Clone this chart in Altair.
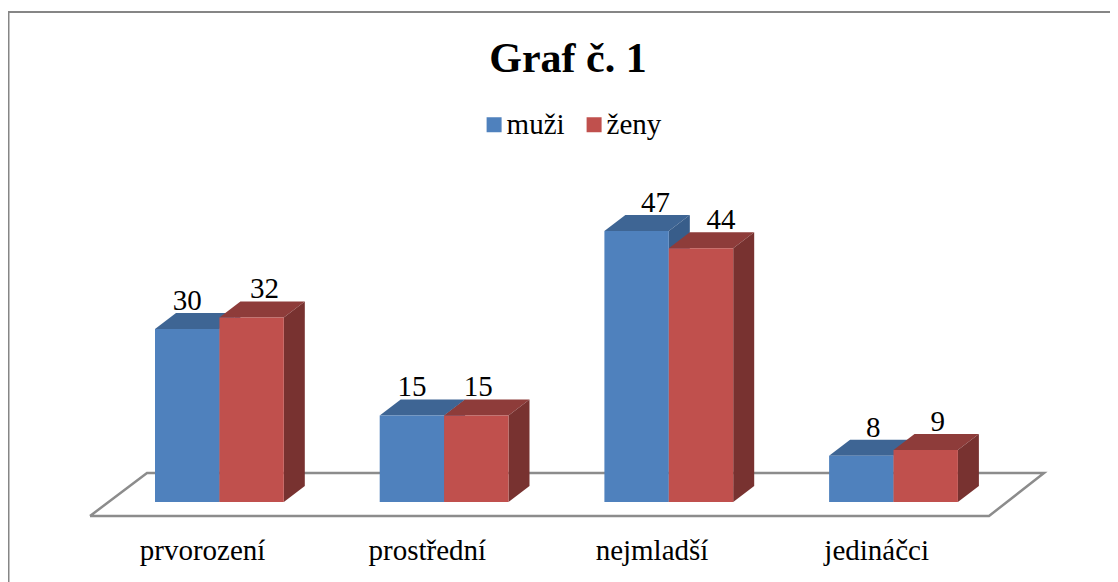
import altair as alt
import pandas as pd

categories = ["prvorození", "prostřední", "nejmladší", "jedináčci"]
muzi = [30, 15, 47, 8]
zeny = [32, 15, 44, 9]
series = ["muži", "ženy"]
front = ["#4F81BD", "#C0504D"]
top = ["#3E6594", "#8E3C3A"]
side = ["#385D8A", "#783230"]
label_nudge_x = [[0, 13], [0, 2], [19, 20], [12, 12]]

W, H = 1102, 574
PX = 5.766            # pixels per unit of value
BASE = 494            # pixel row of value 0 inside the svg
DX, DY = 21, 16 / PX  # depth of the bars
BAR = 64.4
STEP = 224.7
X0 = 147
FONT = "Liberation Serif"

xs = alt.Scale(domain=[0, W], range=[0, W])
ys = alt.Scale(domain=[(BASE - H) / PX, BASE / PX], range=[H, 0], zero=False)
X = lambda f: alt.X(f, type="quantitative", scale=xs, axis=None)
Y = lambda f: alt.Y(f, type="quantitative", scale=ys, axis=None)

def v_from_row(row):
    return (BASE - row) / PX

rows_front, rows_top, rows_side, rows_text = [], [], [], []
for s, vals in enumerate([muzi, zeny]):
    for c, v in enumerate(vals):
        x0 = X0 + c * STEP + s * BAR
        x1 = x0 + BAR
        key = f"{s}-{c}"
        rows_front.append(dict(s=s, name=series[s], x=x0, x2=x1, y=0, y2=v))
        rows_top += [dict(s=s, key=key, y=v, x=x0, x2=x1),
                     dict(s=s, key=key, y=v + DY, x=x0 + DX, x2=x1 + DX)]
        rows_side += [dict(s=s, key=key, x=x1, y=0, y2=v),
                      dict(s=s, key=key, x=x1 + DX, y=DY, y2=v + DY)]
        rows_text.append(dict(s=s, x=(x0 + x1) / 2 + label_nudge_x[c][s], y=v + 3.3, t=str(v)))
df_front = pd.DataFrame(rows_front)
df_top = pd.DataFrame(rows_top)
df_side = pd.DataFrame(rows_side)
df_text = pd.DataFrame(rows_text)

floor_v_front, floor_v_back = v_from_row(508), v_from_row(465)
floor_fill = pd.DataFrame([dict(y=floor_v_front, x=82, x2=981), dict(y=floor_v_back, x=139, x2=1036)])
floor_line = pd.DataFrame([
    dict(o=0, x=82, y=floor_v_front), dict(o=1, x=981, y=floor_v_front),
    dict(o=2, x=1036, y=floor_v_back), dict(o=3, x=139, y=floor_v_back),
    dict(o=4, x=82, y=floor_v_front)])
frame = pd.DataFrame([
    dict(o=0, x=0.5, y=v_from_row(H)), dict(o=1, x=0.5, y=v_from_row(4)),
    dict(o=2, x=W, y=v_from_row(4))])
cat_df = pd.DataFrame(dict(t=categories,
                           x=[X0 + BAR - 16.8 + c * STEP for c in range(4)],
                           y=[v_from_row(552)] * 4))
title_df = pd.DataFrame(dict(t=["Graf č. 1"], x=[560], y=[v_from_row(64)]))

layers = [
    alt.Chart(frame).mark_line(color="#868686", strokeWidth=2).encode(X("x"), Y("y"), order="o:Q"),
    alt.Chart(floor_fill).mark_area(orient="horizontal", color="white").encode(X("x"), x2="x2", y=Y("y")),
    alt.Chart(floor_line).mark_line(color="#8C8C8C", strokeWidth=2.5).encode(X("x"), Y("y"), order="o:Q"),
]
for s in range(2):
    layers += [
        alt.Chart(df_top[df_top.s == s]).mark_area(orient="horizontal", color=top[s]).encode(
            X("x"), x2="x2", y=Y("y"), detail="key:N"),
        alt.Chart(df_side[df_side.s == s]).mark_area(orient="vertical", color=side[s]).encode(
            X("x"), y=Y("y"), y2="y2", detail="key:N"),
        alt.Chart(df_front[df_front.s == s]).mark_rect().encode(
            X("x"), x2="x2", y=Y("y"), y2="y2",
            color=alt.Color("name:N", scale=alt.Scale(domain=series, range=front), legend=alt.Legend(
                title=None, orient="none", legendX=471.6, legendY=102, direction="horizontal",
                symbolType="square", symbolSize=225, symbolStrokeWidth=0, symbolOpacity=1,
                labelFont=FONT, labelFontSize=29, labelColor="black", labelOffset={"expr": "-2"},
                columnPadding=15, padding=0, labelLimit=200))),
    ]
text_kw = dict(font=FONT, color="black", baseline="alphabetic", align="center")
layers += [
    alt.Chart(df_text).mark_text(fontSize=29, **text_kw).encode(X("x"), Y("y"), text="t:N"),
    alt.Chart(cat_df).mark_text(fontSize=29, **text_kw).encode(X("x"), Y("y"), text="t:N"),
    alt.Chart(title_df).mark_text(fontSize=42, fontWeight="bold", **text_kw).encode(X("x"), Y("y"), text="t:N"),
]

chart = alt.layer(*layers).properties(
    width=W, height=H,
    padding=0,
    background="white",
    autosize=alt.AutoSizeParams(type="none"),
).configure_view(stroke=None)

chart.save("out.html", embed_options={"renderer": "svg", "actions": False})
